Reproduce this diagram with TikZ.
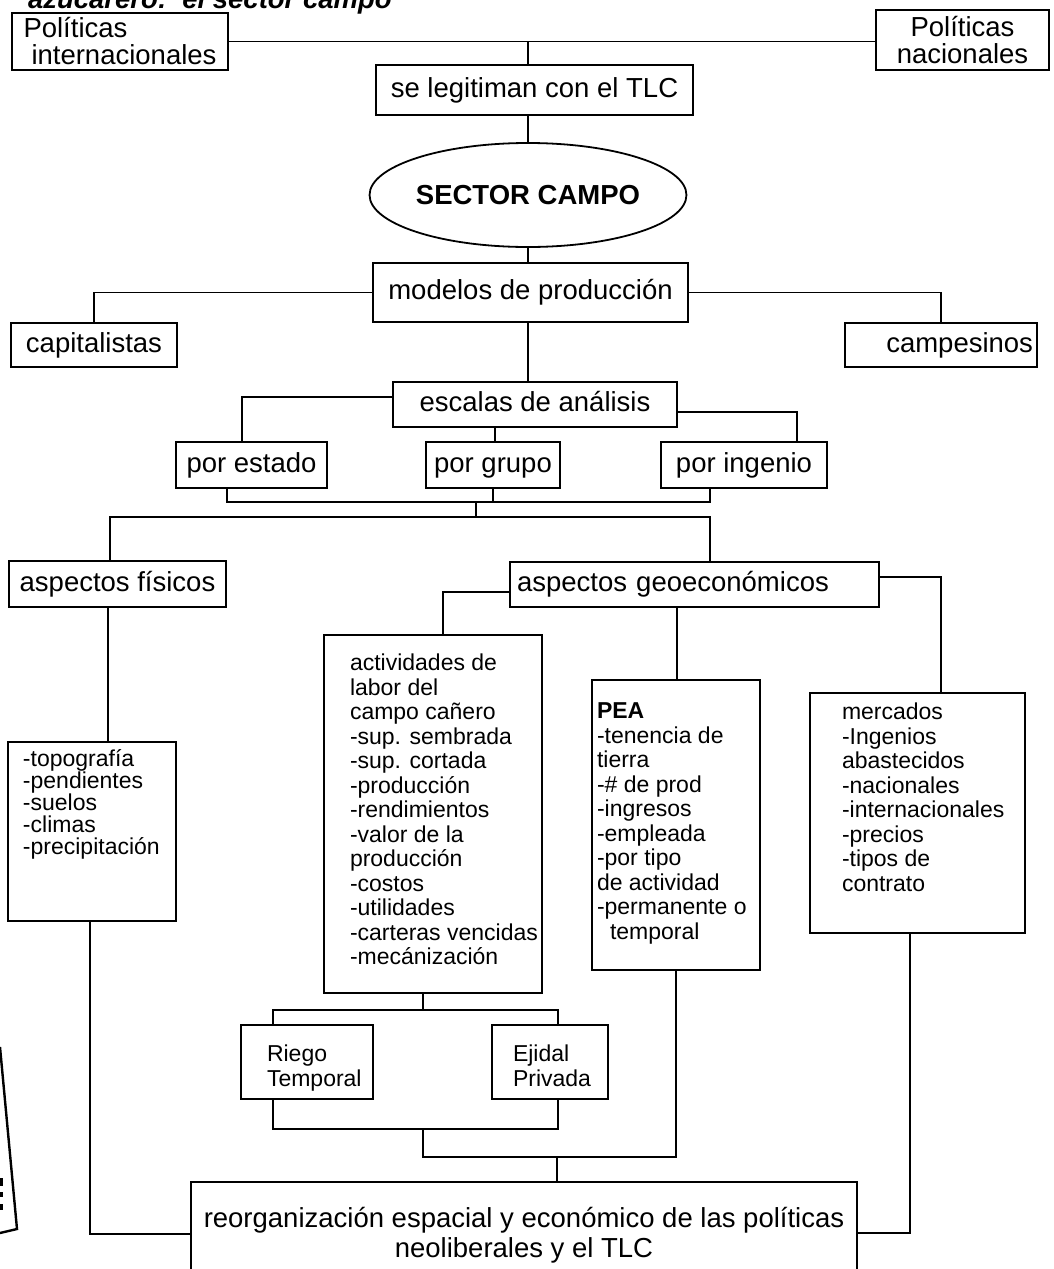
\documentclass[tikz,border=0pt]{standalone}
\usepackage{fontspec}
\setmainfont{Liberation Sans}
\usetikzlibrary{shapes.geometric}
\newcommand\mainsz{\fontsize{27.5}{28}\selectfont}
\newcommand\listsz{\fontsize{23}{24.5}\selectfont}
\begin{document}
\begin{tikzpicture}[x=1pt,y=-1pt,line width=1.8pt,
  every node/.style={inner sep=0pt,outer sep=0pt},
  box/.style={draw,rectangle,line width=1.8pt,font=\mainsz},
  one/.style={box,text height=20pt,text depth=6pt},
  oval/.style={draw,ellipse,line width=1.8pt,font=\mainsz\bfseries,text height=20pt,text depth=1pt},
  lst/.style={font=\listsz,align=left,anchor=north west},
  link/.style={line width=1.9pt}]
\useasboundingbox (0,0) rectangle (1053,1269);

% heading, partly cut by the page edge
\node[font=\mainsz\bfseries\itshape,anchor=base west] (head) at (28,8.5) {azucarero:\ \ el sector campo};

% top level
\node[box,minimum width=216pt,minimum height=57pt,align=left] (pi) at (120,41.5)
  {Políticas\\[-1pt]\hspace{8pt}internacionales};
\node[box,minimum width=173pt,minimum height=60pt,align=center] (pn) at (962.5,40)
  {Políticas\\[-1pt]nacionales};
\node[one,minimum width=317pt,minimum height=50pt] (leg) at (534.5,90) {se legitiman con el TLC};
\node[oval,minimum width=269pt,minimum height=104pt] (sc) at (528,195) {SECTOR CAMPO};
\node[one,minimum width=315pt,minimum height=59pt] (mod) at (530.5,292.5) {modelos de producción};
\node[one,minimum width=166pt,minimum height=44pt] (cap) at (94,345) {capitalistas};
\node[one,minimum height=44pt,text width=184pt,inner xsep=4pt,align=right] (camp) at (941,345) {campesinos};

% scales of analysis
\node[one,minimum width=284pt,minimum height=45pt] (esc) at (535,404.5) {escalas de análisis};
\node[one,minimum width=151pt,minimum height=46pt] (pe) at (251.5,465) {por estado};
\node[one,minimum width=134pt,minimum height=46pt] (pg) at (493,465) {por grupo};
\node[one,minimum width=166pt,minimum height=46pt] (ping) at (744,465) {por ingenio};

% aspects
\node[one,minimum width=217pt,minimum height=46pt] (af) at (117.5,584) {aspectos físicos};
\node[one,minimum height=45pt,text width=355pt,inner xsep=7pt,align=left] (ag) at (694.5,584.5) {aspectos geoeconómicos};

% detail boxes
\node[box,minimum width=168pt,minimum height=179pt] (topo) at (92,831.5) {};
\node[lst,font=\fontsize{23}{22}\selectfont] (topoT) at (23,750)
  {-topografía\\-pendientes\\-suelos\\-climas\\-precipitación};

\node[box,minimum width=218pt,minimum height=358pt] (act) at (433,814) {};
\node[lst] (actT) at (350,654)
  {actividades de\\labor del\\campo cañero\\-sup. sembrada\\-sup. cortada\\-producción\\-rendimientos\\-valor de la\\producción\\-costos\\-utilidades\\-carteras vencidas\\-mecánización};

\node[box,minimum width=168pt,minimum height=290pt] (pea) at (676,825) {};
\node[lst] (peaT) at (597,703)
  {\textbf{PEA}\\-tenencia de\\tierra\\-\# de prod\\-ingresos\\-empleada\\-por tipo\\de actividad\\-permanente o\\\hspace{13pt}temporal};

\node[box,minimum width=215pt,minimum height=240pt] (mer) at (917.5,813) {};
\node[lst] (merT) at (842,703)
  {mercados\\-Ingenios\\abastecidos\\-nacionales\\-internacionales\\-precios\\-tipos de\\contrato};

\node[box,minimum width=132pt,minimum height=74pt] (rie) at (307,1062) {};
\node[lst] (rieT) at (267,1045) {Riego\\Temporal};
\node[box,minimum width=116pt,minimum height=74pt] (eji) at (550,1062) {};
\node[lst] (ejiT) at (513,1045) {Ejidal\\Privada};

\node[box,minimum width=666pt,minimum height=106pt,align=center] (reo) at (524,1235)
  {reorganización espacial y económico de las políticas\\[2pt]neoliberales y el TLC};

% connector bends
\coordinate (cx) at (528,0);
\coordinate (eL) at (242,397);
\coordinate (eR) at (797,412);
\coordinate (eM) at (495,0);
\coordinate (j1) at (227,502);
\coordinate (j2) at (710,502);
\coordinate (k1) at (476,502);
\coordinate (k2) at (476,517);
\coordinate (sL) at (110,517);
\coordinate (sR) at (710,517);
\coordinate (gL) at (443,592);
\coordinate (gR) at (941,577);
\coordinate (gM) at (677,0);
\coordinate (fM) at (108,0);
\coordinate (tB) at (90,1234);
\coordinate (aM) at (423,0);
\coordinate (rT) at (273,1010);
\coordinate (eT) at (558,1010);
\coordinate (rB) at (273,1129);
\coordinate (eB) at (558,1129);
\coordinate (pB) at (676,1157);
\coordinate (rM) at (557,1157);
\coordinate (mB) at (910,1233);

% connectors
\draw[link] (pi.east) -- (pi.east -| pn.west);
\draw[link] (cx |- pi.east) -- (cx |- leg.north);
\draw[link] (cx |- leg.south) -- (sc.north);
\draw[link] (sc.south) -- (cx |- mod.north);
\draw[link] (mod.west) -| (cap.north);
\draw[link] (mod.east) -| (camp.north);
\draw[link] (cx |- mod.south) -- (cx |- esc.north);
\draw[link] (eL -| esc.west) -- (eL) -- (eL |- pe.north);
\draw[link] (eR -| esc.east) -- (eR) -- (eR |- ping.north);
\draw[link] (eM |- esc.south) -- (eM |- pg.north);
\draw[link] (j1 |- pe.south) -- (j1) -- (j2) -- (j2 |- ping.south);
\draw[link] (pg.south) -- (pg.south |- j1);
\draw[link] (k1) -- (k2);
\draw[link] (sL |- af.north) -- (sL) -- (sR) -- (sR |- ag.north);
\draw[link] (gL -| ag.west) -- (gL) -- (gL |- act.north);
\draw[link] (gR -| ag.east) -- (gR) -- (gR |- mer.north);
\draw[link] (gM |- ag.south) -- (gM |- pea.north);
\draw[link] (fM |- af.south) -- (fM |- topo.north);
\draw[link] (tB |- topo.south) -- (tB) -- (tB -| reo.west);
\draw[link] (aM |- act.south) -- (aM |- rT);
\draw[link] (rT |- rie.north) -- (rT) -- (eT) -- (eT |- eji.north);
\draw[link] (rB |- rie.south) -- (rB) -- (eB) -- (eB |- eji.south);
\draw[link] (aM |- rB) -- (aM |- pB) -- (pB) -- (pB |- pea.south);
\draw[link] (rM) -- (rM |- reo.north);
\draw[link] (mB |- mer.south) -- (mB) -- (mB -| reo.east);

% tilted stamp frame at the left margin
\draw[line width=2.4pt] (0,1047) -- (17,1229) -- (0,1233);
\fill (0,1178) rectangle (3,1186);
\fill (0,1192) rectangle (3,1197);
\fill (0,1204) rectangle (3,1210);
\end{tikzpicture}
\end{document}
